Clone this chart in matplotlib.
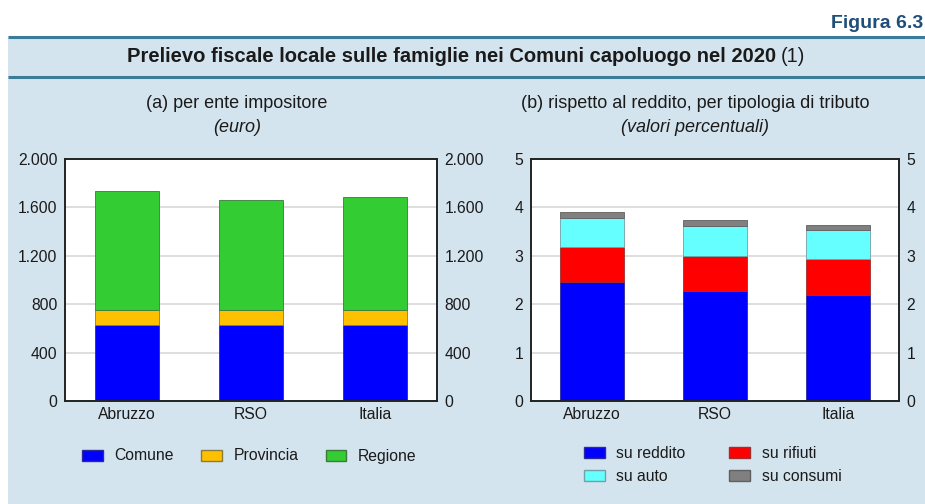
import matplotlib
matplotlib.use("Agg")
import matplotlib.pyplot as plt
from matplotlib.patches import Patch, Rectangle
from matplotlib.ticker import FuncFormatter

# --------------------------------------------------
# DATA
# --------------------------------------------------
CATEGORIES = ["Abruzzo", "RSO", "Italia"]

# (a) per ente impositore (euro)
COMUNE    = [630, 630, 625]
PROVINCIA = [125, 125, 130]
REGIONE   = [980, 905, 935]

# (b) rispetto al reddito (valori percentuali)
SU_REDDITO  = [2.46, 2.28, 2.19]
SU_RIFIUTI  = [0.72, 0.72, 0.74]
SU_AUTO     = [0.61, 0.61, 0.60]
SU_CONSUMI  = [0.11, 0.12, 0.11]

TICKS_A = [0, 400, 800, 1200, 1600, 2000]
TICKS_B = [0, 1, 2, 3, 4, 5]

# --------------------------------------------------
# STYLE
# --------------------------------------------------
plt.rcParams["font.family"] = ["Liberation Sans", "DejaVu Sans"]
W, H = 925, 504
BG = "#d4e4ee"
LINE_C = "#3b7c98"
TXT = "#1a1a1a"
FS = 11.3


def fx(px):
    return px / W


def fy(py):
    return 1 - py / H


fig = plt.figure(figsize=(W / 100, H / 100), dpi=100)
fig.patch.set_facecolor("white")

# background axes for the light blue panel
bg = fig.add_axes([0, 0, 1, 1], zorder=-5)
bg.set_xlim(0, W)
bg.set_ylim(H, 0)
bg.axis("off")
bg.add_patch(Rectangle((8, 37), W - 8, H - 37, facecolor=BG, edgecolor="none"))
for yy in (37, 77):
    bg.plot([8, W], [yy, yy], color=LINE_C, lw=2.2, solid_capstyle="butt")

fig.text(fx(923), fy(24), "Figura 6.3", ha="right", va="center", fontsize=14,
         fontweight="bold", color="#1f4e79")

# title: bold part + "(1)" centred as one group
t_main = fig.text(0, fy(57), "Prelievo fiscale locale sulle famiglie nei Comuni capoluogo nel 2020",
                  ha="left", va="center", fontsize=14.5, fontweight="bold", color=TXT)
t_note = fig.text(0, fy(57), "(1)", ha="left", va="center", fontsize=14.5, color=TXT)
r = fig.canvas.get_renderer()
w_main = t_main.get_window_extent(r).width
w_note = t_note.get_window_extent(r).width
gap = 5
x0 = 466 - (w_main + gap + w_note) / 2
t_main.set_x(fx(x0))
t_note.set_x(fx(x0 + w_main + gap))


def setup_axis(ax, ticks, fmt):
    ax.set_facecolor("white")
    ax.set_ylim(ticks[0], ticks[-1])
    ax.set_xlim(-0.5, 2.5)
    ax.set_yticks(ticks)
    ax.yaxis.set_major_formatter(FuncFormatter(fmt))
    ax.set_xticks(range(len(CATEGORIES)))
    ax.set_xticklabels(CATEGORIES)
    ax.tick_params(axis="y", left=False, right=False, labelleft=True, labelright=True,
                   length=0, labelsize=FS, colors=TXT, pad=5.5)
    ax.tick_params(axis="x", bottom=False, length=0, labelsize=FS, colors=TXT, pad=4)
    ax.grid(axis="y", color="#d8d8d8", lw=1.2, zorder=0)
    ax.set_axisbelow(True)
    for s in ax.spines.values():
        s.set_color("#222222")
        s.set_linewidth(1.4)


def thousands(v, pos):
    return f"{int(v):,}".replace(",", ".")


x = range(len(CATEGORIES))
bw = 0.52

# --------------------------------------------------
# (a)
# --------------------------------------------------
ax1 = fig.add_axes([fx(65), fy(401), fx(437) - fx(65), fy(159) - fy(401)])
setup_axis(ax1, TICKS_A, thousands)
b1 = [c + p for c, p in zip(COMUNE, PROVINCIA)]
ax1.bar(x, COMUNE, bw, color="#0000ff", edgecolor="#2a2a9a", lw=0.6, zorder=2)
ax1.bar(x, PROVINCIA, bw, bottom=COMUNE, color="#ffc000", edgecolor="#8a7a40", lw=0.6, zorder=2)
ax1.bar(x, REGIONE, bw, bottom=b1, color="#33cc33", edgecolor="#3a7a3a", lw=0.6, zorder=2)

fig.text(fx(237), fy(104), "(a) per ente impositore", ha="center", va="center",
         fontsize=13, color=TXT)
fig.text(fx(237), fy(127), "(euro)", ha="center", va="center", fontsize=13,
         style="italic", color=TXT)

leg1 = [Patch(facecolor="#0000ff", edgecolor="#2a2a9a", label="Comune"),
        Patch(facecolor="#ffc000", edgecolor="#8a7a40", label="Provincia"),
        Patch(facecolor="#33cc33", edgecolor="#3a7a3a", label="Regione")]
fig.legend(handles=leg1, loc="center left", bbox_to_anchor=(fx(68), fy(456)), ncol=3,
           frameon=False, fontsize=FS, handlelength=1.3, handleheight=0.7,
           handletextpad=0.75, columnspacing=1.75, labelcolor=TXT)

# --------------------------------------------------
# (b)
# --------------------------------------------------
ax2 = fig.add_axes([fx(531), fy(401), fx(899) - fx(531), fy(159) - fy(401)])
setup_axis(ax2, TICKS_B, lambda v, pos: f"{int(v)}")
s1 = [a + b for a, b in zip(SU_REDDITO, SU_RIFIUTI)]
s2 = [a + b for a, b in zip(s1, SU_AUTO)]
ax2.bar(x, SU_REDDITO, bw, color="#0000ff", edgecolor="#2a2a9a", lw=0.6, zorder=2)
ax2.bar(x, SU_RIFIUTI, bw, bottom=SU_REDDITO, color="#ff0000", edgecolor="#9a3030", lw=0.6, zorder=2)
ax2.bar(x, SU_AUTO, bw, bottom=s1, color="#66ffff", edgecolor="#70a0a8", lw=0.6, zorder=2)
ax2.bar(x, SU_CONSUMI, bw, bottom=s2, color="#808080", edgecolor="#606060", lw=0.6, zorder=2)

fig.text(fx(695), fy(104), "(b) rispetto al reddito, per tipologia di tributo", ha="center",
         va="center", fontsize=13, color=TXT)
fig.text(fx(695), fy(127), "(valori percentuali)", ha="center", va="center", fontsize=13,
         style="italic", color=TXT)

leg2 = [Patch(facecolor="#0000ff", edgecolor="#2a2a9a", label="su reddito"),
        Patch(facecolor="#66ffff", edgecolor="#70a0a8", label="su auto"),
        Patch(facecolor="#ff0000", edgecolor="#9a3030", label="su rifiuti"),
        Patch(facecolor="#808080", edgecolor="#606060", label="su consumi")]
fig.legend(handles=leg2, loc="center left", bbox_to_anchor=(fx(570), fy(465)), ncol=2,
           frameon=False, fontsize=FS, handlelength=1.3, handleheight=0.7,
           handletextpad=0.75, columnspacing=2.8, labelspacing=0.55, labelcolor=TXT)

fig.savefig("out.png", dpi=100)
